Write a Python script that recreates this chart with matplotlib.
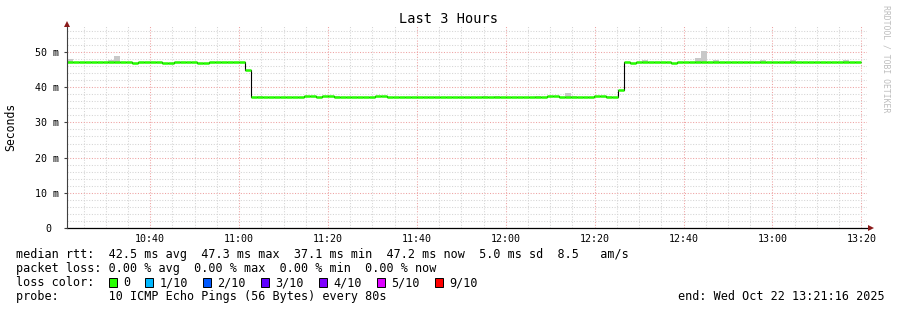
import numpy as np
import matplotlib
matplotlib.use('Agg')
import matplotlib.pyplot as plt
from matplotlib.patches import Rectangle

W, H = 897, 310

# ---- data -------------------------------------------------------------
# 3 hour window (minutes since midnight), ending 13:21:16
t_end = 13 * 60 + 21 + 16 / 60
t_start = t_end - 180
step_min = 80 / 60            # one round of pings every 80 s

# median rtt in ms, run-length encoded (value, number of 80 s steps)
seg_values = [47.2, 47.0, 47.2, 47.0, 47.2, 47.0, 47.2, 45.0,
              37.1, 37.4, 37.1, 37.4, 37.1, 37.4, 37.1, 37.4, 37.1, 37.4, 37.1,
              39.3, 47.2, 47.0, 47.2, 47.0, 47.2]
seg_counts = [11, 1, 4, 2, 4, 2, 6, 1,
              9, 2, 1, 2, 7, 2, 27, 2, 6, 2, 2,
              1, 1, 1, 6, 1, 31]

# smoke (spread of the 10 pings above the median), step index -> top in ms
smoke_step = [0, 7, 8, 32, 45, 70, 72, 79, 84, 85, 91, 97, 106, 107, 109, 117, 122, 131]
smoke_top = [48.0, 47.7, 48.9, 37.6, 37.6, 37.6, 37.6, 37.6, 38.4, 37.6, 37.6,
             47.6, 48.3, 50.3, 47.6, 47.6, 47.6, 47.7]

x_ticks = [10 * 60 + 40, 11 * 60, 11 * 60 + 20, 11 * 60 + 40, 12 * 60,
           12 * 60 + 20, 12 * 60 + 40, 13 * 60, 13 * 60 + 20]
x_labels = ['10:40', '11:00', '11:20', '11:40', '12:00', '12:20', '12:40', '13:00', '13:20']
y_ticks = [0, 10, 20, 30, 40, 50]
y_labels = ['0', '10 m', '20 m', '30 m', '40 m', '50 m']

loss_labels = ['0', '1/10', '2/10', '3/10', '4/10', '5/10', '9/10']
loss_colors = ['#26ff00', '#00b8ff', '#0059ff', '#5e00ff', '#7e00ff', '#dd00ff', '#ff0000']

legend_rtt = 'median rtt:  42.5 ms avg  47.3 ms max  37.1 ms min  47.2 ms now  5.0 ms sd  8.5   am/s'
legend_loss = 'packet loss: 0.00 % avg  0.00 % max  0.00 % min  0.00 % now'
legend_probe = 'probe:       10 ICMP Echo Pings (56 Bytes) every 80s'
legend_end = 'end: Wed Oct 22 13:21:16 2025'

med = np.repeat(seg_values, seg_counts)
starts = t_start + np.arange(len(med)) * step_min
edges = np.append(starts, starts[-1] + step_min)
smoke_step = np.array(smoke_step)

# ---- figure -----------------------------------------------------------
plt.rcParams['font.family'] = 'DejaVu Sans Mono'
fig = plt.figure(figsize=(W / 100, H / 100), dpi=100, facecolor='white')


def fx(x):
    return x / W


def fy(y):
    return 1 - y / H


ax = fig.add_axes([fx(67), fy(228), 800 / W, 202 / H])
ax.set_xlim(t_start, t_end)
ax.set_ylim(0, 202 / 3.52)
for s in ax.spines.values():
    s.set_visible(False)

# grid
minor_x = [m for m in np.arange(10 * 60 + 25, t_end, 5) if m % 20]
minor_y = [v for v in np.arange(2, 58, 2) if v % 10]
ax.set_xticks(x_ticks)
ax.set_xticklabels(x_labels)
ax.set_xticks(minor_x, minor=True)
ax.set_yticks(y_ticks)
ax.set_yticklabels(y_labels)
ax.set_yticks(minor_y, minor=True)
ax.grid(which='minor', color='#d4d4d4', linestyle=(0, (1, 1.6)), lw=0.75)
ax.grid(which='major', color='#eea0a0', linestyle=(0, (1, 1.6)), lw=0.75)
ax.set_axisbelow(True)
ax.tick_params(which='minor', length=0)
ax.tick_params(axis='x', which='major', length=0, pad=4.6, labelsize=7.2)
ax.tick_params(axis='y', which='major', length=2.2, width=0.8, color='#404040',
               pad=3.4, labelsize=7.2)
ax.yaxis.get_major_ticks()[0].set_pad(9.2)

# smoke, step line and median
ax.bar(starts[smoke_step], np.array(smoke_top) - med[smoke_step], width=step_min,
       bottom=med[smoke_step], align='edge', color='#c8c8c8', lw=0, zorder=2)
ax.stairs(med, edges, baseline=None, color='black', lw=0.8, zorder=3)
ax.hlines(med, starts, starts + step_min, color='#26ff00', lw=1.8, zorder=4)

# axis lines with arrows
ax.plot([0, 1.004], [0, 0], color='black', lw=0.9, transform=ax.transAxes,
        clip_on=False, zorder=5)
ax.plot([0, 0], [0, 1.01], color='#404040', lw=0.8, transform=ax.transAxes,
        clip_on=False, zorder=5)
ax.plot([1.0045], [0], marker='>', ms=3.8, color='#8b1a1a', mew=0,
        transform=ax.transAxes, clip_on=False, zorder=6)
ax.plot([0], [1.0105], marker='^', ms=3.8, color='#8b1a1a', mew=0,
        transform=ax.transAxes, clip_on=False, zorder=6)

# titles
fig.text(fx(448), fy(23), 'Last 3 Hours', ha='center', va='baseline', fontsize=9.8)
fig.text(fx(11), fy(127), 'Seconds', ha='center', va='center', rotation=90, fontsize=8.3)
fig.text(fx(886), fy(59), 'RRDTOOL / TOBI OETIKER', ha='center', va='center',
         rotation=270, fontsize=5.9, color='#bdbdbd')

# legend
lx = 16
fig.text(fx(lx), fy(258), legend_rtt, ha='left', va='baseline', fontsize=8.5)
fig.text(fx(lx), fy(272), legend_loss, ha='left', va='baseline', fontsize=8.5)
fig.text(fx(lx), fy(286), 'loss color:', ha='left', va='baseline', fontsize=8.5)
fig.text(fx(lx), fy(300), legend_probe, ha='left', va='baseline', fontsize=8.5)
fig.text(fx(678), fy(300), legend_end, ha='left', va='baseline', fontsize=8.5)

adv = 7.11
bx = 108.5
for lab, col in zip(loss_labels, loss_colors):
    fig.add_artist(Rectangle((fx(bx), fy(286.5)), 8 / W, 8.5 / H, transform=fig.transFigure,
                             facecolor=col, edgecolor='black', lw=0.7))
    fig.text(fx(bx + 14.5), fy(286), lab, ha='left', va='baseline', fontsize=8.5)
    bx = bx + 14.5 + len(lab) * adv + 15

fig.savefig('out.png', dpi=100, facecolor='white')
